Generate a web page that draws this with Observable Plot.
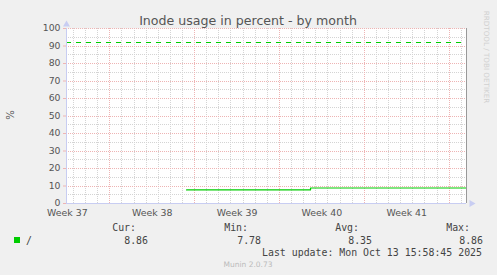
<!DOCTYPE html>
<html>
<head>
<meta charset="utf-8">
<script src="https://cdn.jsdelivr.net/npm/d3@7"></script>
<script src="https://cdn.jsdelivr.net/npm/@observablehq/plot@0.6"></script>
<style>
  html, body { margin: 0; padding: 0; background: #f0f0f0; }
  #wrap { position: relative; width: 497px; height: 275px; overflow: hidden; background: #f0f0f0; }
  #wrap > svg { position: absolute; left: 0; top: 0; }
</style>
</head>
<body>
<div id="wrap"></div>
<script>
// ---- data ----
const titleText = "Inode usage in percent - by month";
const yAxisLabel = "%";
const domainTimes = ["2025-09-11T10:18:00Z", "2025-10-14T10:18:00Z"];
const weekStarts = ["2025-09-08T00:00:00Z", "2025-09-15T00:00:00Z", "2025-09-22T00:00:00Z", "2025-09-29T00:00:00Z", "2025-10-06T00:00:00Z", "2025-10-13T00:00:00Z"];
const weekLabels = ["Week 37", "Week 38", "Week 39", "Week 40", "Week 41", "Week 42"];
const seriesTimes = ["2025-09-21T08:00:00Z", "2025-10-01T13:30:00Z", "2025-10-14T09:30:00Z"];
const seriesValues = [7.78, 8.86, 8.86];
const warningValue = 92;
const yTicks = [0, 10, 20, 30, 40, 50, 60, 70, 80, 90, 100];
const yMinorTicks = [5, 15, 25, 35, 45, 55, 65, 75, 85, 95];
const seriesName = "/";
const statHeads = ["Cur:", "Min:", "Avg:", "Max:"];
const statValues = ["8.86", "7.78", "8.35", "8.86"];
const lastUpdate = "Last update: Mon Oct 13 15:58:45 2025";
const footer = "Munin 2.0.73";
const sideText = "RRDTOOL / TOBI OETIKER";

// ---- build ----
const xStart = new Date(domainTimes[0]);
const xEnd = new Date(domainTimes[1]);
const weekDates = weekStarts.map(d => new Date(d));
const majorX = weekDates.filter(d => d > xStart && d < xEnd);
const majorSet = new Set(majorX.map(d => +d));
const minorX = d3.utcDay.range(xStart, xEnd).filter(d => !majorSet.has(+d) && d > xStart);
const labelDates = [];
const labelMap = new Map();
weekDates.forEach((d, i) => {
  const mid = new Date(+d + 3.5 * 86400000);
  if (mid >= xStart && mid <= xEnd) { labelDates.push(mid); labelMap.set(+mid, weekLabels[i]); }
});
const series = seriesTimes.map((t, i) => ({t: new Date(t), v: seriesValues[i]}));

const green = "#00cc00";
const majorColor = "#eeb4b4";
const minorColor = "#d4d4d4";
const axisColor = "#c8cdf2";
const crisp = {shapeRendering: "crispEdges", strokeDasharray: "1,1", strokeWidth: 1};

const chart = Plot.plot({
  width: 497,
  height: 275,
  marginLeft: 66,
  marginRight: 31,
  marginTop: 28,
  marginBottom: 72,
  x: {type: "utc", domain: [xStart, xEnd]},
  y: {domain: [0, 100]},
  style: {background: "transparent", fontFamily: "DejaVu Sans, sans-serif", fontSize: "9px", color: "#555", overflow: "visible"},
  marks: [
    Plot.frame({fill: "white", stroke: null}),
    Plot.ruleX(minorX, {stroke: minorColor, ...crisp}),
    Plot.ruleY(yMinorTicks, {stroke: minorColor, ...crisp}),
    Plot.ruleX(majorX, {stroke: majorColor, ...crisp}),
    Plot.ruleY(yTicks.filter(v => v > 0), {stroke: majorColor, ...crisp}),
    Plot.ruleY([warningValue], {stroke: green, strokeDasharray: "5,5", strokeWidth: 1.2}),
    Plot.line(series, {x: "t", y: "v", curve: "step-after", stroke: green, strokeWidth: 1.2}),
    Plot.ruleX([xEnd], {stroke: "#999", strokeWidth: 1, shapeRendering: "crispEdges"}),
    Plot.ruleX([xStart], {stroke: axisColor, strokeWidth: 1, shapeRendering: "crispEdges"}),
    Plot.ruleY([0], {stroke: axisColor, strokeWidth: 1, shapeRendering: "crispEdges"}),
    Plot.dot([xStart], {x: d => d, y: () => 100, symbol: "triangle", r: 2.6, fill: axisColor, stroke: null, dy: -4}),
    Plot.dot([xEnd], {x: d => d, y: () => 0, symbol: "triangle", r: 2.6, fill: axisColor, stroke: null, rotate: 90, dx: 5}),
    Plot.axisY({ticks: yTicks, tickSize: 3, tickPadding: 3, stroke: majorColor, fill: "#555", fontSize: 9.3, label: null}),
    Plot.axisX({ticks: labelDates, tickSize: 0, tickPadding: 6, tickFormat: d => labelMap.get(+d), fill: "#555", fontSize: 9.4, label: null})
  ]
});
document.getElementById("wrap").appendChild(chart);

// ---- overlay texts ----
const ov = d3.select("#wrap").append("svg")
  .attr("width", 497).attr("height", 275)
  .style("position", "absolute").style("left", "0px").style("top", "0px");

ov.append("text").attr("x", 248).attr("y", 25).attr("text-anchor", "middle")
  .attr("font-family", "DejaVu Sans, sans-serif").attr("font-size", 12.6).attr("fill", "#555").text(titleText);

ov.append("text").attr("transform", "translate(13.5,115) rotate(-90)").attr("text-anchor", "middle")
  .attr("font-family", "DejaVu Sans, sans-serif").attr("font-size", 10).attr("fill", "#555").text(yAxisLabel);

ov.append("text").attr("transform", "translate(484,57) rotate(90)").attr("text-anchor", "middle")
  .attr("font-family", "DejaVu Sans, sans-serif").attr("font-size", 7.2).attr("fill", "#d0d0d0").text(sideText);

const mono = "DejaVu Sans Mono, monospace";
const headRight = [136, 248, 359, 470];
const valRight = [148, 261, 372, 483];
statHeads.forEach((h, i) => {
  ov.append("text").attr("x", headRight[i]).attr("y", 230.5).attr("text-anchor", "end")
    .attr("font-family", mono).attr("font-size", 9.9).attr("fill", "#444").text(h);
  ov.append("text").attr("x", valRight[i]).attr("y", 243.5).attr("text-anchor", "end")
    .attr("font-family", mono).attr("font-size", 9.9).attr("fill", "#444").text(statValues[i]);
});
ov.append("rect").attr("x", 14).attr("y", 237).attr("width", 6).attr("height", 6).attr("fill", green);
ov.append("text").attr("x", 26).attr("y", 243.5).attr("font-family", mono).attr("font-size", 9.9).attr("fill", "#444").text(seriesName);
ov.append("text").attr("x", 482).attr("y", 255.5).attr("text-anchor", "end")
  .attr("font-family", mono).attr("font-size", 9.9).attr("fill", "#444").text(lastUpdate);
ov.append("text").attr("x", 248).attr("y", 267).attr("text-anchor", "middle")
  .attr("font-family", "DejaVu Sans, sans-serif").attr("font-size", 7.5).attr("fill", "#bbb").text(footer);
</script>
</body>
</html>
